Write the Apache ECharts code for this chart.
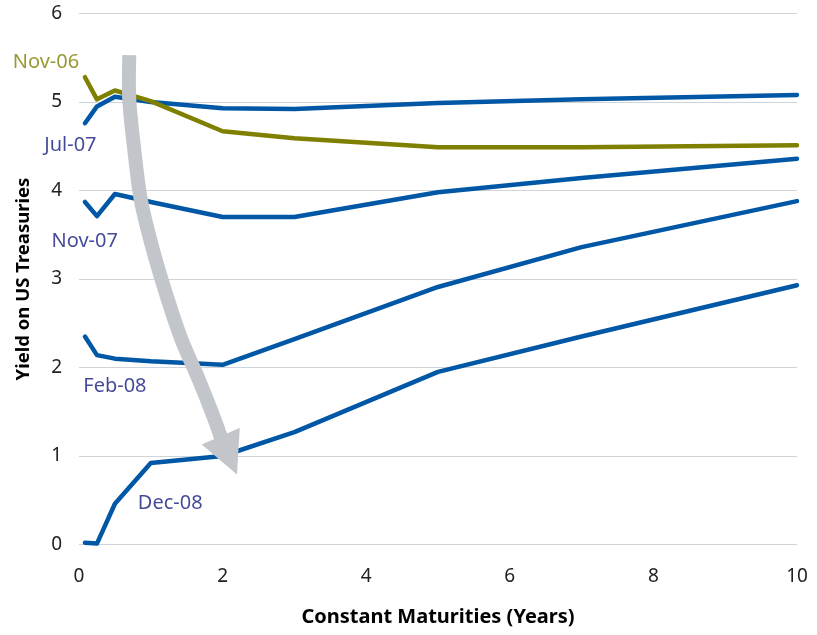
<!DOCTYPE html>
<html>
<head>
<meta charset="utf-8">
<script src="https://cdn.jsdelivr.net/npm/echarts@6/dist/echarts.min.js"></script>
<style>
  html, body { margin: 0; padding: 0; background: #fff; }
  #chart { width: 817px; height: 635px; }
</style>
</head>
<body>
<div id="chart"></div>
<script>
// Constant maturities in years: 1m, 3m, 6m, 1y, 2y, 3y, 5y, 7y, 10y
const maturities = [0.083, 0.25, 0.5, 1, 2, 3, 5, 7, 10];

// Treasury yield curves (%)
const nov06 = [5.28, 5.03, 5.13, 5.01, 4.67, 4.59, 4.49, 4.49, 4.51];
const jul07 = [4.76, 4.95, 5.06, 5.00, 4.93, 4.92, 4.99, 5.03, 5.08];
const nov07 = [3.87, 3.71, 3.96, 3.87, 3.70, 3.70, 3.98, 4.14, 4.36];
const feb08 = [2.35, 2.14, 2.10, 2.07, 2.03, 2.32, 2.91, 3.36, 3.88];
const dec08 = [0.02, 0.01, 0.46, 0.92, 1.00, 1.27, 1.95, 2.35, 2.93];

// Curve labels and their anchor points (years, %)
const curveNames = ['Nov-06', 'Jul-07', 'Nov-07', 'Feb-08', 'Dec-08'];
const curveLabelX = [-0.46, -0.12, 0.08, 0.50, 1.27];
const curveLabelY = [5.45, 4.51, 3.43, 1.79, 0.47];

// Downward-shift arrow: shaft path and head (years, %)
const arrowShaft = [
  [0.70, 5.53], [0.70, 5.03], [0.77, 4.46], [0.86, 3.90], [1.03, 3.33],
  [1.24, 2.76], [1.43, 2.31], [1.67, 1.86], [1.89, 1.41], [1.98, 1.20]
];
const arrowHead = [[1.71, 1.13], [2.24, 1.32], [2.20, 0.79]];

// Axis ticks
const xTicks = [0, 2, 4, 6, 8, 10];
const yTicks = [0, 1, 2, 3, 4, 5, 6];

const BLUE = '#0057a6';
const OLIVE = '#7f7f00';
const NAVY = '#141a80';
const GREY = '#c2c6ca';
const FONT = '"Noto Sans", "Open Sans", sans-serif';

const pairs = ys => maturities.map((m, i) => [m, ys[i]]);

function curve(name, ys, color) {
  return {
    name, type: 'line', data: pairs(ys), symbol: 'none',
    lineStyle: { color, width: 4.5, join: 'round', cap: 'round' },
    z: 2, silent: true
  };
}

const chart = echarts.init(document.getElementById('chart'), null, { renderer: 'canvas' });

chart.setOption({
  animation: false,
  backgroundColor: '#ffffff',
  grid: { left: 79, right: 20, top: 13.5, bottom: 90.5, outerBoundsMode: 'none', containLabel: false },
  xAxis: {
    type: 'value', min: xTicks[0], max: xTicks[xTicks.length - 1], interval: 2,
    name: 'Constant Maturities (Years)', nameLocation: 'middle', nameGap: 63,
    nameTextStyle: { fontFamily: FONT, fontSize: 20, fontWeight: 'bold', color: '#000' },
    axisLine: { show: false }, axisTick: { show: false }, splitLine: { show: false },
    axisLabel: { fontFamily: FONT, fontSize: 19, color: '#222', margin: 23 }
  },
  yAxis: {
    type: 'value', min: yTicks[0], max: yTicks[yTicks.length - 1], interval: 1,
    name: 'Yield on US Treasuries', nameLocation: 'middle', nameGap: 46,
    nameTextStyle: { fontFamily: FONT, fontSize: 18.5, fontWeight: 'bold', color: '#000' },
    axisLine: { show: false }, axisTick: { show: false },
    splitLine: { lineStyle: { color: '#d0d3d7', width: 1 } },
    axisLabel: { fontFamily: FONT, fontSize: 19, color: '#222', margin: 17 }
  },
  series: [
    curve('Dec-08', dec08, BLUE),
    curve('Feb-08', feb08, BLUE),
    curve('Nov-07', nov07, BLUE),
    curve('Jul-07', jul07, BLUE),
    curve('Nov-06', nov06, OLIVE),
    {
      name: 'labels', type: 'scatter', symbolSize: 0, clip: false, silent: true, z: 4,
      data: curveNames.map((n, i) => ({
        value: [curveLabelX[i], curveLabelY[i]],
        label: { color: i === 0 ? OLIVE : NAVY }
      })),
      label: {
        show: true, position: 'inside', fontFamily: FONT, fontSize: 20,
        formatter: p => curveNames[p.dataIndex]
      }
    },
    {
      name: 'arrow', type: 'custom', silent: true, z: 5, clip: false,
      data: [0],
      renderItem: (params, api) => {
        const shaft = arrowShaft.map(p => api.coord(p));
        const head = arrowHead.map(p => api.coord(p));
        return {
          type: 'group',
          children: [
            {
              type: 'polyline',
              shape: { points: shaft, smooth: 0.3 },
              style: { stroke: GREY, lineWidth: 14, fill: null, lineCap: 'butt', lineJoin: 'round' }
            },
            {
              type: 'polygon',
              shape: { points: head },
              style: { fill: GREY }
            }
          ]
        };
      }
    }
  ]
});
</script>
</body>
</html>
